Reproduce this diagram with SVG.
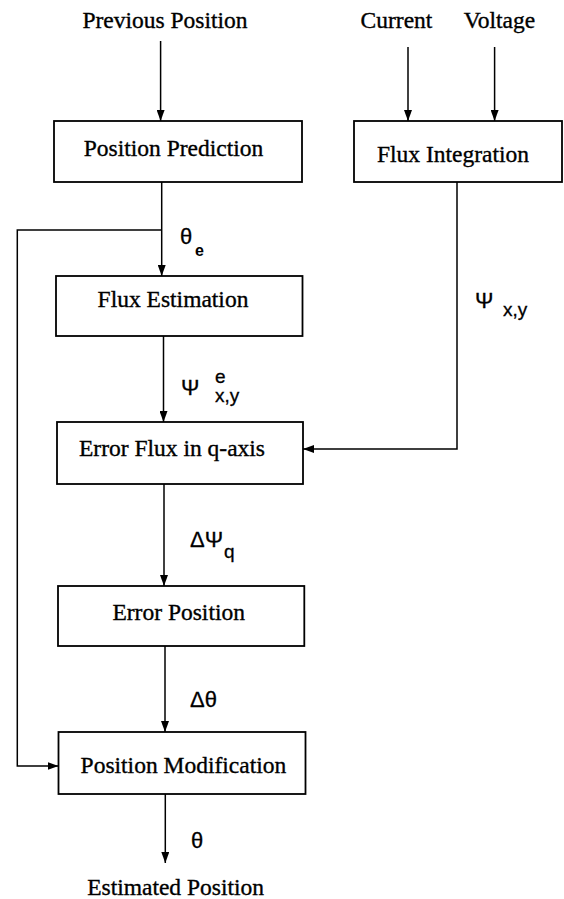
<svg xmlns="http://www.w3.org/2000/svg" width="564" height="899" viewBox="0 0 564 899">
<style>
.box{fill:none;stroke:#000;stroke-width:1.8}
.ln{fill:none;stroke:#000;stroke-width:1.5}
.t{font-family:"Liberation Serif","Times New Roman",serif;font-size:23.5px;fill:#000;stroke:#000;stroke-width:0.35;text-anchor:middle}
.g{font-family:"Liberation Sans",Arial,sans-serif;font-size:22px;fill:#000;stroke:#000;stroke-width:0.3}
.s{font-family:"Liberation Sans",Arial,sans-serif;font-size:19px;fill:#000;stroke:#000;stroke-width:0.3}
.s2{font-family:"Liberation Sans",Arial,sans-serif;font-size:16px;font-weight:bold;fill:#000}
</style>
<defs>
<marker id="ah" markerUnits="userSpaceOnUse" markerWidth="11" markerHeight="8" refX="11" refY="4" orient="auto">
<path d="M0,0 L11,4 L0,8 Z" fill="#000"/>
</marker>
</defs>
<text class="t" x="165" y="28">Previous Position</text>
<text class="t" x="396.5" y="28">Current</text>
<text class="t" x="499.5" y="28">Voltage</text>
<g id="position-prediction"><rect class="box" x="54" y="121" width="248" height="61"/><text class="t" x="173.5" y="156">Position Prediction</text></g>
<g id="flux-integration"><rect class="box" x="354" y="121" width="208" height="61"/><text class="t" x="453" y="162">Flux Integration</text></g>
<g id="flux-estimation"><rect class="box" x="56" y="276" width="246.5" height="60"/><text class="t" x="173" y="307">Flux Estimation</text></g>
<g id="error-flux"><rect class="box" x="57" y="422" width="246" height="62"/><text class="t" x="172" y="456">Error Flux in q-axis</text></g>
<g id="error-position"><rect class="box" x="58" y="586" width="246.3" height="60"/><text class="t" x="178.7" y="620">Error Position</text></g>
<g id="position-modification"><rect class="box" x="58.5" y="732" width="247" height="62"/><text class="t" x="183.4" y="773">Position Modification</text></g>
<text class="t" x="175.6" y="895">Estimated Position</text>
<g id="connectors">
<path class="ln" d="M160.6,41 V121" marker-end="url(#ah)"/>
<path class="ln" d="M408,47 V121" marker-end="url(#ah)"/>
<path class="ln" d="M494.6,47 V121" marker-end="url(#ah)"/>
<path class="ln" d="M161.7,182 V276" marker-end="url(#ah)"/>
<path class="ln" d="M161.7,230 H17.3 V766 H58.5" marker-end="url(#ah)"/>
<path class="ln" d="M163.5,336 V422" marker-end="url(#ah)"/>
<path class="ln" d="M457,182 V449 H303" marker-end="url(#ah)"/>
<path class="ln" d="M164,484 V586" marker-end="url(#ah)"/>
<path class="ln" d="M165,646 V732" marker-end="url(#ah)"/>
<path class="ln" d="M165.3,794 V863" marker-end="url(#ah)"/>
</g>
<g id="labels">
<text class="g" x="180" y="244">θ</text><text class="s2" x="195" y="256">e</text>
<text class="g" x="475" y="308">Ψ</text><text class="s" x="503" y="316">x,y</text>
<text class="g" x="181" y="395">Ψ</text><text class="s" x="215" y="383">e</text><text class="s" x="215" y="402">x,y</text>
<text class="g" x="190" y="547">ΔΨ</text><text class="s" x="224" y="558">q</text>
<text class="g" x="190" y="707">Δθ</text>
<text class="g" x="191" y="848">θ</text>
</g>
</svg>
